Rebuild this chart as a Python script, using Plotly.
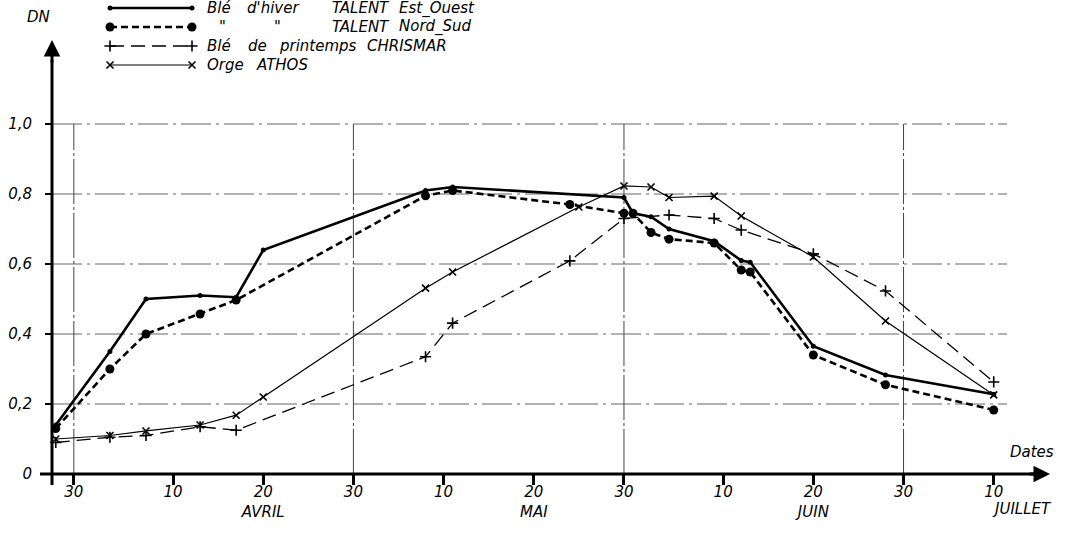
import plotly.graph_objects as go
from datetime import datetime

# dates are "MM-DD" of the same season, values are DN
est_ouest_dates = ["03-28", "04-03", "04-07", "04-13", "04-17", "04-20", "05-08", "05-11", "05-30",
                   "05-31", "06-02", "06-04", "06-09", "06-12", "06-13", "06-20", "06-28", "07-10"]
est_ouest_dn = [0.14, 0.35, 0.50, 0.51, 0.505, 0.64, 0.81, 0.82, 0.79,
                0.745, 0.735, 0.70, 0.665, 0.61, 0.605, 0.365, 0.283, 0.228]

nord_sud_dates = ["03-28", "04-03", "04-07", "04-13", "04-17", "05-08", "05-11", "05-24", "05-30",
                  "05-31", "06-02", "06-04", "06-09", "06-12", "06-13", "06-20", "06-28", "07-10"]
nord_sud_dn = [0.13, 0.30, 0.40, 0.457, 0.497, 0.795, 0.81, 0.77, 0.745,
               0.745, 0.69, 0.671, 0.66, 0.583, 0.577, 0.34, 0.255, 0.183]

chrismar_dates = ["03-28", "04-03", "04-07", "04-13", "04-17", "05-08", "05-11", "05-24", "05-30",
                  "06-04", "06-09", "06-12", "06-20", "06-28", "07-10"]
chrismar_dn = [0.09, 0.105, 0.11, 0.135, 0.125, 0.335, 0.431, 0.609, 0.73,
               0.74, 0.73, 0.697, 0.629, 0.523, 0.263]

athos_dates = ["03-28", "04-03", "04-07", "04-13", "04-17", "04-20", "05-08", "05-11", "05-25",
               "05-30", "06-02", "06-04", "06-09", "06-12", "06-20", "06-28", "07-10"]
athos_dn = [0.10, 0.11, 0.123, 0.14, 0.168, 0.22, 0.531, 0.577, 0.763,
            0.823, 0.82, 0.79, 0.794, 0.737, 0.62, 0.437, 0.226]

tick_dates = ["03-30", "04-10", "04-20", "04-30", "05-10", "05-20", "05-30",
              "06-10", "06-20", "06-30", "07-10"]
tick_text = ["30", "10", "20<br>AVRIL", "30", "10", "20<br>MAI", "30",
             "10", "20<br>JUIN", "30", "10"]
grid_dates = ["03-30", "04-30", "05-30", "06-30"]
dn_ticks = [0, 0.2, 0.4, 0.6, 0.8, 1.0]
dn_text = ["0", "0,2", "0,4", "0,6", "0,8", "1,0"]


def doy(d):
    # day of year in a non leap year
    return datetime.strptime("2001-" + d, "%Y-%m-%d").timetuple().tm_yday


# plot area in pixels
L, R, B = 52, 37, 62
W = 1087 - L - R
H = 536 - B
X0, X1 = 86.58, 197.24
YMAX = H / 350.0


def px(xp):
    return (xp - L) / W


def py(yp):
    return (H - yp) / H


def dx(xp):
    # pixel -> day (for decoration only)
    return X0 + (xp - L) * (X1 - X0) / W


BLACK = "black"
fig = go.Figure()

series = [
    (est_ouest_dates, est_ouest_dn, dict(color=BLACK, width=2.6), dict(symbol="circle", size=5, color=BLACK)),
    (nord_sud_dates, nord_sud_dn, dict(color=BLACK, width=2.6, dash="7px,4px"), dict(symbol="circle", size=9, color=BLACK)),
    (chrismar_dates, chrismar_dn, dict(color=BLACK, width=1.3, dash="14px,7px"),
     dict(symbol="cross-thin", size=8, color=BLACK, line=dict(color=BLACK, width=1.6))),
    (athos_dates, athos_dn, dict(color=BLACK, width=1.2),
     dict(symbol="x-thin", size=7, color=BLACK, line=dict(color=BLACK, width=1.6))),
]
for dates, vals, line, marker in series:
    fig.add_trace(go.Scatter(x=[doy(d) for d in dates], y=vals, mode="lines+markers",
                             line=line, marker=marker, cliponaxis=False, hoverinfo="skip"))

# legend samples drawn on a pixel overlay axis
legend_rows = [8, 27, 46, 65]
for (dates, vals, line, marker), yr in zip(series, legend_rows):
    fig.add_trace(go.Scatter(x=[110, 192], y=[yr, yr], mode="lines+markers", line=line, marker=marker,
                             xaxis="x2", yaxis="y2", cliponaxis=False, hoverinfo="skip"))

shapes = []
gd = "30px,5px,3px,5px"
for v in dn_ticks[1:]:
    shapes.append(dict(type="line", xref="x", yref="y", x0=X0, x1=dx(1007), y0=v, y1=v,
                       line=dict(color="#555", width=0.9, dash=gd), layer="below"))
for d in grid_dates:
    shapes.append(dict(type="line", xref="x", yref="y", x0=doy(d), x1=doy(d), y0=0, y1=1.0,
                       line=dict(color="#444", width=1, dash="45px,3px,3px,3px"), layer="below"))
# axes
shapes.append(dict(type="line", xref="paper", yref="paper", x0=px(40), x1=px(1035), y0=0, y1=0,
                   line=dict(color=BLACK, width=3)))
shapes.append(dict(type="line", xref="paper", yref="paper", x0=0, x1=0, y0=py(485), y1=py(60),
                   line=dict(color=BLACK, width=3)))

annotations = [
    dict(xref="paper", yref="paper", x=px(1050), y=0, ax=-22, ay=0, text="", showarrow=True,
         arrowhead=2, arrowsize=1.1, arrowwidth=3, arrowcolor=BLACK),
    dict(xref="paper", yref="paper", x=0, y=py(40), ax=0, ay=24, text="", showarrow=True,
         arrowhead=2, arrowsize=1.1, arrowwidth=3, arrowcolor=BLACK),
    dict(xref="paper", yref="paper", x=px(38), y=py(17), text="DN", showarrow=False,
         xanchor="center", yanchor="middle"),
    dict(xref="paper", yref="paper", x=px(1032), y=py(452), text="Dates", showarrow=False,
         xanchor="center", yanchor="middle"),
    dict(xref="paper", yref="paper", x=px(1022), y=py(509), text="JUILLET", showarrow=False,
         xanchor="center", yanchor="middle"),
]

legend_words = [
    ("Blé", 205, 8), ("d'hiver", 245, 8), ("TALENT", 330, 8), ("Est_Ouest", 397, 8),
    ("\"", 217, 27), ("\"", 272, 27), ("TALENT", 330, 27), ("Nord_Sud", 397, 27),
    ("Blé", 205, 46), ("de", 246, 46), ("printemps", 277, 46), ("CHRISMAR", 365, 46),
    ("Orge", 205, 65), ("ATHOS", 254, 65),
]
for txt, xw, yw in legend_words:
    annotations.append(dict(xref="paper", yref="paper", x=px(xw), y=py(yw), text=txt, showarrow=False,
                            xanchor="left", yanchor="middle"))

fig.update_layout(
    width=1087, height=536,
    margin=dict(l=L, r=R, t=0, b=B),
    plot_bgcolor="white", paper_bgcolor="white",
    showlegend=False,
    font=dict(family="DejaVu Sans", size=15, color=BLACK, style="italic"),
    xaxis=dict(range=[X0, X1], tickvals=[doy(d) for d in tick_dates], ticktext=tick_text,
               ticks="outside", ticklen=10, tickwidth=3, tickcolor=BLACK, ticklabelstandoff=-6,
               showgrid=False, zeroline=False, showline=False),
    yaxis=dict(range=[0, YMAX], tickvals=dn_ticks, ticktext=dn_text,
               ticks="outside", ticklen=6, tickwidth=2, tickcolor=BLACK, ticklabelstandoff=10,
               showgrid=False, zeroline=False, showline=False),
    xaxis2=dict(overlaying="x", anchor="y2", range=[L, 1087 - R], visible=False),
    yaxis2=dict(overlaying="y", anchor="x2", range=[H, 0], visible=False),
    shapes=shapes,
    annotations=annotations,
)

# the page body has a default 8px margin; drop it so the figure sits at the window origin
fig.write_html("out.html", config={"displayModeBar": False},
               post_script="document.body.style.margin='0px';")
